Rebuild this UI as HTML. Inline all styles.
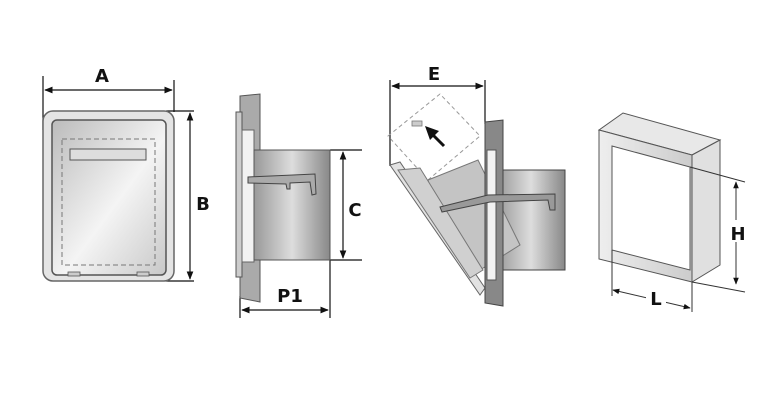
<!DOCTYPE html>
<html><head><meta charset="utf-8"><style>
html,body{margin:0;padding:0;background:#fff;width:768px;height:400px;overflow:hidden}
text{font-family:"DejaVu Sans","Liberation Sans",sans-serif;font-weight:bold;fill:#111}
</style></head><body>
<svg width="768" height="400" viewBox="0 0 768 400" xmlns="http://www.w3.org/2000/svg">
<defs>
<linearGradient id="g1" x1="0" y1="0" x2="1" y2="1"><stop offset="0" stop-color="#bbb"/><stop offset=".55" stop-color="#f4f4f4"/><stop offset="1" stop-color="#c8c8c8"/></linearGradient>
<linearGradient id="g2" x1="0" y1="0" x2="1" y2="0"><stop offset="0" stop-color="#999"/><stop offset=".5" stop-color="#ddd"/><stop offset="1" stop-color="#888"/></linearGradient>
<linearGradient id="g3" x1="0" y1="0" x2="1" y2="0"><stop offset="0" stop-color="#eee"/><stop offset="1" stop-color="#ccc"/></linearGradient>
<marker id="ar" viewBox="0 0 10 10" refX="9" refY="5" markerWidth="7" markerHeight="7" orient="auto-start-reverse"><path d="M0,1 L10,5 L0,9 z" fill="#111"/></marker>
</defs>
<g stroke="#111" stroke-width="1.2" fill="none">
<line x1="43" y1="76" x2="43" y2="130"/><line x1="174" y1="80" x2="174" y2="112"/>
<line x1="45" y1="90" x2="172" y2="90" marker-start="url(#ar)" marker-end="url(#ar)"/>
<line x1="166" y1="111" x2="194" y2="111"/><line x1="166" y1="281" x2="194" y2="281"/>
<line x1="190" y1="113" x2="190" y2="279" marker-start="url(#ar)" marker-end="url(#ar)"/>
<line x1="330" y1="150" x2="362" y2="150"/><line x1="330" y1="260" x2="362" y2="260"/>
<line x1="343" y1="152" x2="343" y2="258" marker-start="url(#ar)" marker-end="url(#ar)"/>
<line x1="330" y1="260" x2="330" y2="318"/><line x1="240" y1="296" x2="240" y2="318"/>
<line x1="242" y1="310" x2="328" y2="310" marker-start="url(#ar)" marker-end="url(#ar)"/>
<line x1="390" y1="80" x2="390" y2="166"/><line x1="485" y1="80" x2="485" y2="124"/>
<line x1="392" y1="86" x2="483" y2="86" marker-start="url(#ar)" marker-end="url(#ar)"/>
</g>
<rect x="43" y="111" width="131" height="170" rx="10" fill="#e4e4e4" stroke="#666" stroke-width="1.5"/>
<rect x="52" y="120" width="114" height="155" rx="5" fill="url(#g1)" stroke="#555" stroke-width="1.5"/>
<rect x="62" y="139" width="93" height="126" fill="none" stroke="#777" stroke-dasharray="5,3"/>
<rect x="70" y="149" width="76" height="11" fill="#ddd" stroke="#555"/>
<rect x="68" y="272" width="12" height="4" fill="#ccc" stroke="#555" stroke-width=".8"/>
<rect x="137" y="272" width="12" height="4" fill="#ccc" stroke="#555" stroke-width=".8"/>
<polygon points="240,96 260,94 260,302 240,298" fill="#aaa" stroke="#555"/>
<rect x="236" y="112" width="6" height="165" fill="#ccc" stroke="#555"/>
<rect x="242" y="130" width="12" height="132" fill="#f2f2f2" stroke="#666"/>
<rect x="254" y="150" width="76" height="110" fill="url(#g2)" stroke="#555"/>
<path d="M248,177 L315,174 L316,194 L312,195 L310,182 L290,183 L290,189 L287,189 L286,184 L248,183 z" fill="#aaa" stroke="#444"/>
<!-- open view -->
<polygon points="388,136 440,94 480,136 428,180" fill="none" stroke="#999" stroke-dasharray="4,3"/>
<polygon points="497,170 565,170 565,270 497,270" fill="url(#g2)" stroke="#444"/>
<polygon points="428,180 478,160 520,245 480,270 440,230" fill="#c4c4c4" stroke="#777"/>
<polygon points="390,165 400,162 485,288 480,295" fill="#e2e2e2" stroke="#666"/>
<polygon points="398,170 420,168 483,270 470,278" fill="#d0d0d0" stroke="#777"/>
<polygon points="485,122 503,120 503,306 485,303" fill="#888" stroke="#444"/>
<rect x="487" y="150" width="9" height="130" fill="#f2f2f2" stroke="#555"/>
<path d="M440,207 L488,195 L555,194 L555,210 L550,210 L548,200 L490,202 L442,212 z" fill="#999" stroke="#444"/>
<line x1="444" y1="146" x2="432" y2="134" stroke="#111" stroke-width="3"/>
<path d="M425,126 L439,131 L430,140 z" fill="#111"/>
<rect x="412" y="121" width="10" height="5" fill="#ccc" stroke="#777" stroke-width=".8"/>
<!-- frame box -->
<polygon points="599,130 623,113 720,140 692,155" fill="#e8e8e8" stroke="#555"/>
<polygon points="692,155 720,140 720,265 692,282" fill="#e0e0e0" stroke="#555"/>
<path d="M599,130 L692,155 L692,282 L599,259 z M612,146 L690,167 L690,270 L612,250 z" fill="url(#g3)" fill-rule="evenodd" stroke="#555"/>
<g stroke="#333" stroke-width="1" fill="none">
<line x1="690" y1="167" x2="745" y2="182"/><line x1="692" y1="282" x2="745" y2="292"/>
<line x1="736" y1="182" x2="736" y2="284" marker-start="url(#ar)" marker-end="url(#ar)"/>
<line x1="612" y1="250" x2="612" y2="296"/><line x1="692" y1="282" x2="692" y2="312"/>
<line x1="613" y1="290" x2="690" y2="308" marker-start="url(#ar)" marker-end="url(#ar)"/>
</g>
<rect x="646" y="288" width="20" height="18" fill="#fff"/>
<rect x="728" y="220" width="18" height="22" fill="#fff"/>
<text x="102" y="82" font-size="18" text-anchor="middle">A</text>
<text x="203" y="210" font-size="18" text-anchor="middle">B</text>
<text x="355" y="216" font-size="18" text-anchor="middle">C</text>
<text x="290" y="302" font-size="18" text-anchor="middle">P1</text>
<text x="434" y="80" font-size="18" text-anchor="middle">E</text>
<text x="738" y="240" font-size="18" text-anchor="middle">H</text>
<text x="656" y="305" font-size="18" text-anchor="middle">L</text>
</svg>
</body></html>
